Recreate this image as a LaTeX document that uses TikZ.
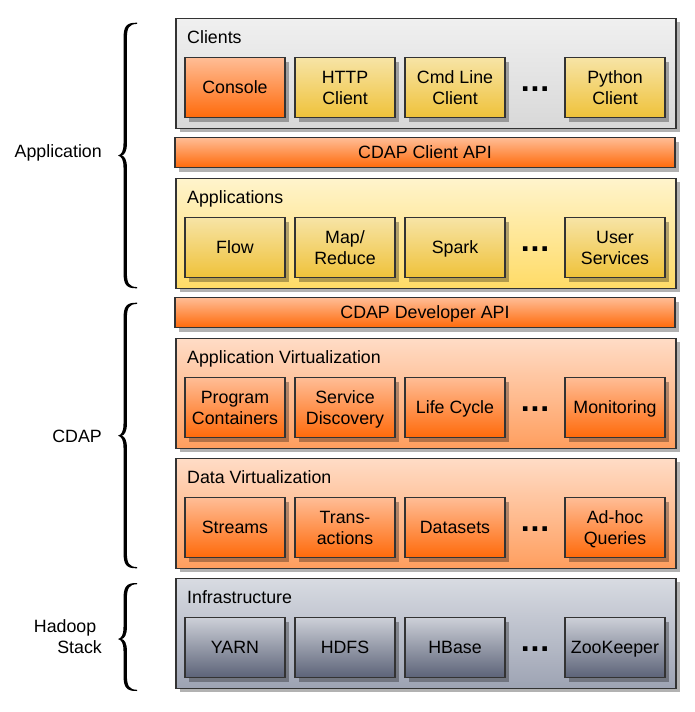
\documentclass[tikz,border=0pt]{standalone}
\usepackage{fontspec}
\setmainfont{Liberation Sans}
\usetikzlibrary{shadows}
\definecolor{bordc}{HTML}{333333}
\definecolor{orI1}{HTML}{FFBD96}
\definecolor{orI2}{HTML}{FF6A0A}
\definecolor{orO1}{HTML}{FFDCC6}
\definecolor{orO2}{HTML}{FF9E5E}
\definecolor{yeI1}{HTML}{F7E4A6}
\definecolor{yeI2}{HTML}{EFC23A}
\definecolor{yeO1}{HTML}{FFF4CC}
\definecolor{yeO2}{HTML}{FFDB66}
\definecolor{grO1}{HTML}{F0F0F0}
\definecolor{grO2}{HTML}{D8D8D8}
\definecolor{slO1}{HTML}{D8DBE2}
\definecolor{slO2}{HTML}{9DA3B3}
\definecolor{slI1}{HTML}{CDD0D8}
\definecolor{slI2}{HTML}{5C6378}
\newcommand\onel[1]{\raisebox{0pt}[12.8pt][0pt]{#1}}
\newcommand\twol[2]{\raisebox{0pt}[33.8pt][0pt]{\begin{tabular}[b]{@{}c@{}}#1\\#2\end{tabular}}}
\newcommand\lbrc[3]{%
 \fill[black] (137,#1) .. controls (126,{#1-0.3}) and (123.5,{#1+4}) .. (123.5,{#1+16})
  -- (123.5,{#2-12}) .. controls (123.5,{#2-4}) and (121.5,{#2-1}) .. (118,#2)
  .. controls (121.5,{#2+1}) and (123.5,{#2+4}) .. (123.5,{#2+12})
  -- (123.5,{#3-16}) .. controls (123.5,{#3-4}) and (126,{#3+0.3}) .. (137,#3)
  -- (137,{#3-1.2}) .. controls (129,{#3-1.5}) and (126.9,{#3-5}) .. (126.9,{#3-16})
  -- (126.9,{#2+12}) .. controls (126.9,{#2+4}) and (124.5,{#2+0.8}) .. (121.8,#2)
  .. controls (124.5,{#2-0.8}) and (126.9,{#2-4}) .. (126.9,{#2-12})
  -- (126.9,{#1+16}) .. controls (126.9,{#1+5}) and (129,{#1+1.5}) .. (137,{#1+1.2}) -- cycle;}
\tikzset{
 txt/.style={font=\fontsize{17.8}{21}\selectfont, text=black},
 base/.style={txt, draw=bordc, line width=1.8pt, rectangle, inner sep=0pt,
   drop shadow={shadow xshift=4pt, shadow yshift=-4pt, fill=black, opacity=0.3}},
 outerbox/.style={base, minimum width=500pt, minimum height=110pt, anchor=north west},
 apibar/.style={base, minimum width=500pt, minimum height=30pt, top color=orI1, bottom color=orI2},
 inbox/.style={base, minimum width=100pt, minimum height=60pt},
 orin/.style={inbox, top color=orI1, bottom color=orI2},
 yein/.style={inbox, top color=yeI1, bottom color=yeI2},
 slin/.style={inbox, top color=slI1, bottom color=slI2},
 title/.style={txt, anchor=base west, inner sep=0pt},
 dots/.style={anchor=base, inner sep=0pt, font=\fontsize{32}{32}\selectfont\bfseries},
 sidelab/.style={txt, anchor=base east, inner sep=0pt, align=right},
}
\begin{document}
\begin{tikzpicture}[x=1pt,y=-1pt]
\useasboundingbox (0,0) rectangle (695,712);
% Clients
\node[outerbox, top color=grO1, bottom color=grO2] (clients) at (175,17.5) {};
\node[title] (tclients) at (187,43) {Clients};
\node[orin] (console) at (235,87.5) {\onel{Console}};
\node[yein] (http) at (345,87.5) {\twol{HTTP}{Client}};
\node[yein] (cmd) at (455,87.5) {\twol{Cmd Line}{Client}};
\node[dots] (d1) at (535,91) {.\kern0.8pt.\kern0.8pt.};
\node[yein] (python) at (615,87.5) {\twol{Python}{Client}};
% Client API
\node[apibar] (capi) at (425,152.5) {\onel{CDAP Client API}};
% Applications
\node[outerbox, top color=yeO1, bottom color=yeO2] (apps) at (175,177.5) {};
\node[title] (tapps) at (187,203) {Applications};
\node[yein] (flow) at (235,247.5) {\onel{Flow}};
\node[yein] (mapred) at (345,247.5) {\twol{Map/}{Reduce}};
\node[yein] (spark) at (455,247.5) {\onel{Spark}};
\node[dots] (d2) at (535,251) {.\kern0.8pt.\kern0.8pt.};
\node[yein] (usersvc) at (615,247.5) {\twol{User}{Services}};
% Developer API
\node[apibar] (dapi) at (425,312.5) {\onel{CDAP Developer API}};
% Application Virtualization
\node[outerbox, top color=orO1, bottom color=orO2] (appvirt) at (175,337.5) {};
\node[title] (tappvirt) at (187,363) {Application Virtualization};
\node[orin] (progc) at (235,407.5) {\twol{Program}{Containers}};
\node[orin] (sdisc) at (345,407.5) {\twol{Service}{Discovery}};
\node[orin] (lcycle) at (455,407.5) {\onel{Life Cycle}};
\node[dots] (d3) at (535,411) {.\kern0.8pt.\kern0.8pt.};
\node[orin] (monit) at (615,407.5) {\onel{Monitoring}};
% Data Virtualization
\node[outerbox, top color=orO1, bottom color=orO2] (datavirt) at (175,457.5) {};
\node[title] (tdatavirt) at (187,483) {Data Virtualization};
\node[orin] (streams) at (235,527.5) {\onel{Streams}};
\node[orin] (trans) at (345,527.5) {\twol{Trans-}{actions}};
\node[orin] (dsets) at (455,527.5) {\onel{Datasets}};
\node[dots] (d4) at (535,531) {.\kern0.8pt.\kern0.8pt.};
\node[orin] (adhoc) at (615,527.5) {\twol{Ad-hoc}{Queries}};
% Infrastructure
\node[outerbox, top color=slO1, bottom color=slO2] (infra) at (175,577.5) {};
\node[title] (tinfra) at (187,603) {Infrastructure};
\node[slin] (yarn) at (235,647.5) {\onel{YARN}};
\node[slin] (hdfs) at (345,647.5) {\onel{HDFS}};
\node[slin] (hbase) at (455,647.5) {\onel{HBase}};
\node[dots] (d5) at (535,651) {.\kern0.8pt.\kern0.8pt.};
\node[slin] (zk) at (615,647.5) {\onel{ZooKeeper}};
% Braces
\lbrc{22.7}{155.5}{288.3}
\lbrc{302.7}{435.7}{568.3}
\lbrc{583}{639}{691}
% Side labels
\node[sidelab] (lapp) at (102,157.7) {Application};
\node[sidelab] (lcdap) at (102,442.7) {CDAP};
\node[sidelab] (lhad) at (102,653.3) {Hadoop\kern5.5pt\\Stack};
\end{tikzpicture}
\end{document}
